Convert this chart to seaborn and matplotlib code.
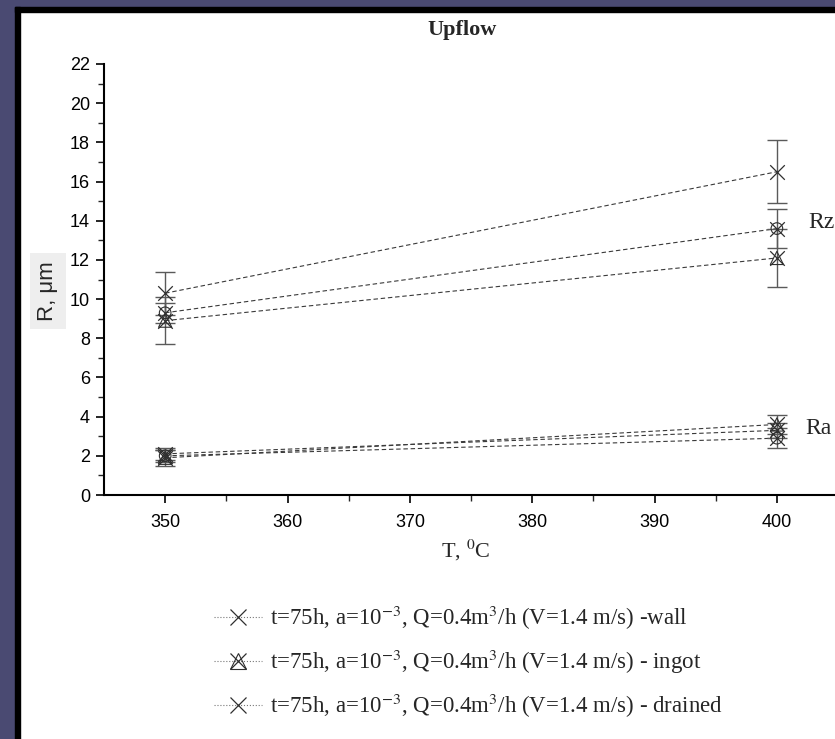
import matplotlib
matplotlib.use("Agg")
import matplotlib.pyplot as plt
from matplotlib.lines import Line2D
from matplotlib.patches import Rectangle
import seaborn as sns
import pandas as pd

# ---- data ----
temps = [350, 400]
series_names = ["wall", "ingot", "drained"]
rz_wall = [10.3, 16.5]
rz_ingot = [8.9, 12.1]
rz_drained = [9.3, 13.6]
rz_wall_err = [1.1, 1.6]
rz_ingot_err = [1.2, 1.5]
rz_drained_err = [0.5, 1.0]
ra_wall = [2.1, 3.3]
ra_ingot = [1.9, 3.6]
ra_drained = [2.0, 2.9]
ra_wall_err = [0.3, 0.4]
ra_ingot_err = [0.4, 0.5]
ra_drained_err = [0.3, 0.5]
legend_labels = [
    r"t=75h, a=10$^{-3}$, Q=0.4m$^{3}$/h (V=1.4 m/s) -wall",
    r"t=75h, a=10$^{-3}$, Q=0.4m$^{3}$/h (V=1.4 m/s) - ingot",
    r"t=75h, a=10$^{-3}$, Q=0.4m$^{3}$/h (V=1.4 m/s) - drained",
]
x_ticks = [350, 360, 370, 380, 390, 400]
y_ticks = [0, 2, 4, 6, 8, 10, 12, 14, 16, 18, 20, 22]

sns.set_style("ticks")
plt.rcParams["font.family"] = ["Liberation Sans", "DejaVu Sans"]
plt.rcParams["mathtext.fontset"] = "stix"

W, H = 835, 739
fig = plt.figure(figsize=(W / 100, H / 100), dpi=100)
fig.patch.set_facecolor("white")

# frame decoration
purple = "#4a4a72"
fig.patches.append(Rectangle((0, 0), 15 / W, 1, transform=fig.transFigure, color=purple, zorder=0))
fig.patches.append(Rectangle((0, 1 - 7 / H), 1, 7 / H, transform=fig.transFigure, color=purple, zorder=0))
fig.patches.append(Rectangle((15 / W, 0), 5 / W, 1 - 7 / H, transform=fig.transFigure, color="black", zorder=0))
fig.patches.append(Rectangle((15 / W, 1 - 12 / H), 1, 5 / H, transform=fig.transFigure, color="black", zorder=0))

y0_px, y22_px = 495, 64
ax = fig.add_axes([104 / W, 1 - y0_px / H, 1 - 104 / W, (y0_px - y22_px) / H])
ax.set_facecolor("none")

line_c = "#3a3a3a"
mark_c = "#2f2f2f"
err_c = "#5a5a5a"

groups = [
    (rz_wall, rz_wall_err, ra_wall, ra_wall_err, "wall"),
    (rz_ingot, rz_ingot_err, ra_ingot, ra_ingot_err, "ingot"),
    (rz_drained, rz_drained_err, ra_drained, ra_drained_err, "drained"),
]

for rz, rz_e, ra, ra_e, name in groups:
    for vals, errs in ((rz, rz_e), (ra, ra_e)):
        df = pd.DataFrame({"T": temps, "R": vals})
        sns.lineplot(data=df, x="T", y="R", ax=ax, color=line_c, lw=0.8,
                     linestyle=(0, (4, 2.5)), legend=False, zorder=2)
        ax.errorbar(temps, vals, yerr=errs, fmt="none", ecolor=err_c,
                    elinewidth=1.0, capsize=7, capthick=1.0, zorder=3)
        sns.scatterplot(data=df, x="T", y="R", ax=ax, marker="x", s=110,
                        color=mark_c, linewidth=0.9, legend=False, zorder=4)
        if name == "ingot":
            ax.scatter(temps, vals, marker="^", s=90, facecolors="none",
                       edgecolors=mark_c, linewidths=0.8, zorder=4)
        if name == "drained":
            ax.scatter(temps, vals, marker="o", s=70, facecolors="none",
                       edgecolors=mark_c, linewidths=0.8, zorder=4)

ax.set_xlim(345, 404.75)
ax.set_ylim(0, 22)
ax.set_xticks(x_ticks)
ax.set_yticks(y_ticks)
ax.set_xticks([355, 365, 375, 385, 395], minor=True)
ax.set_yticks(list(range(1, 22, 2)), minor=True)
ax.tick_params(axis="both", which="major", direction="out", length=6, width=1.2,
               labelsize=13, colors="black")
ax.tick_params(axis="x", which="major", pad=8)
ax.tick_params(axis="y", which="major", pad=4)
ax.tick_params(axis="both", which="minor", direction="out", length=4, width=1.0)
ax.set_xlabel("")
ax.set_ylabel("")
for side in ("top", "right"):
    ax.spines[side].set_visible(False)
for side in ("left", "bottom"):
    ax.spines[side].set_linewidth(1.5)
    ax.spines[side].set_color("black")

serif = ["Liberation Serif", "DejaVu Serif"]
fig.text(462 / W, 1 - 30 / H, "Upflow", family=serif, weight="bold", fontsize=16,
         ha="center", va="center")
fig.text(466 / W, 1 - 550 / H, r"T, $^{0}$C", family=serif, fontsize=16,
         ha="center", va="center")
fig.text(48 / W, 1 - 291 / H, "R, \u03bcm", fontsize=16, rotation=90,
         ha="center", va="center",
         bbox=dict(boxstyle="square,pad=0.35", facecolor="#eeeeee", edgecolor="none"))
fig.text(808 / W, 1 - 222 / H, "Rz", family=serif, fontsize=17, ha="left", va="center")
fig.text(805 / W, 1 - 428 / H, "Ra", family=serif, fontsize=17, ha="left", va="center")

handles = [
    Line2D([0], [0], ls=":", lw=0.8, color="#777777", marker="x", ms=12,
           mec=mark_c, mew=0.9),
    (Line2D([0], [0], ls=":", lw=0.8, color="#777777", marker="x", ms=12,
            mec=mark_c, mew=0.9),
     Line2D([0], [0], ls="none", marker="^", ms=11, mfc="none", mec=mark_c, mew=0.8)),
    Line2D([0], [0], ls=":", lw=0.8, color="#777777", marker="x", ms=12,
           mec=mark_c, mew=0.9),
]
fig.legend(handles, legend_labels, loc="upper left",
           bbox_to_anchor=(214 / W, 1 - 604 / H), frameon=False,
           prop={"family": serif, "size": 16.5}, handlelength=2.1,
           handletextpad=0.35, labelspacing=0.68, borderaxespad=0, borderpad=0)

fig.savefig("out.png", dpi=100, facecolor="white")
